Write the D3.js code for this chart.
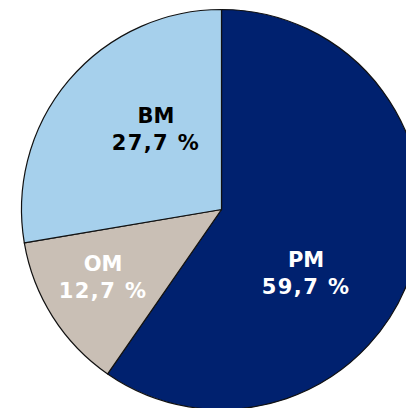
<!DOCTYPE html>
<html><head><meta charset="utf-8">
<script src="https://cdn.jsdelivr.net/npm/d3@7"></script>
<style>html,body{margin:0;padding:0;background:#fff;overflow:hidden}svg{display:block}</style>
</head><body>
<svg id="chart" width="406" height="408"></svg>
<script>
const categories = ["PM", "OM", "BM"];
const values = [59.7, 12.7, 27.7];
const valueLabels = ["59,7 %", "12,7 %", "27,7 %"];

const colors = {PM: "#00216f", OM: "#c9bfb5", BM: "#a6d0ec"};
const textColors = {PM: "#ffffff", OM: "#ffffff", BM: "#000000"};
// label placement (polar, relative to centre): angle in degrees clockwise from top, distance in px
const labelPolar = {PM: [130.2, 110.7], OM: [237.8, 140], BM: [318.0, 97.9]};

const cx = 221.5, cy = 209.5, R = 200;
const svg = d3.select("#chart");
const g = svg.append("g").attr("transform", `translate(${cx},${cy})`);

const data = categories.map((c, i) => ({cat: c, value: values[i], label: valueLabels[i]}));
const pie = d3.pie().sort(null).value(d => d.value).startAngle(0).endAngle(2 * Math.PI);
const arc = d3.arc().innerRadius(0).outerRadius(R);

g.selectAll("path").data(pie(data)).join("path")
  .attr("d", arc)
  .attr("fill", d => colors[d.data.cat])
  .attr("stroke", "#111")
  .attr("stroke-width", 1.2)
  .attr("stroke-linejoin", "round");

const labels = g.selectAll("text").data(pie(data)).join("text")
  .attr("transform", d => {
    const [a, r] = labelPolar[d.data.cat];
    const t = a * Math.PI / 180;
    return `translate(${r * Math.sin(t)},${-r * Math.cos(t)})`;
  })
  .attr("text-anchor", "middle")
  .attr("fill", d => textColors[d.data.cat])
  .style("font-family", "'DejaVu Sans', Verdana, sans-serif")
  .style("font-weight", "bold")
  .style("font-size", "21px");
labels.append("tspan").attr("x", 0).attr("y", -13.5).text(d => d.data.cat);
labels.append("tspan").attr("x", 0).attr("y", 13.5).style("letter-spacing", "1.4px").text(d => d.data.label);
</script>
</body></html>
